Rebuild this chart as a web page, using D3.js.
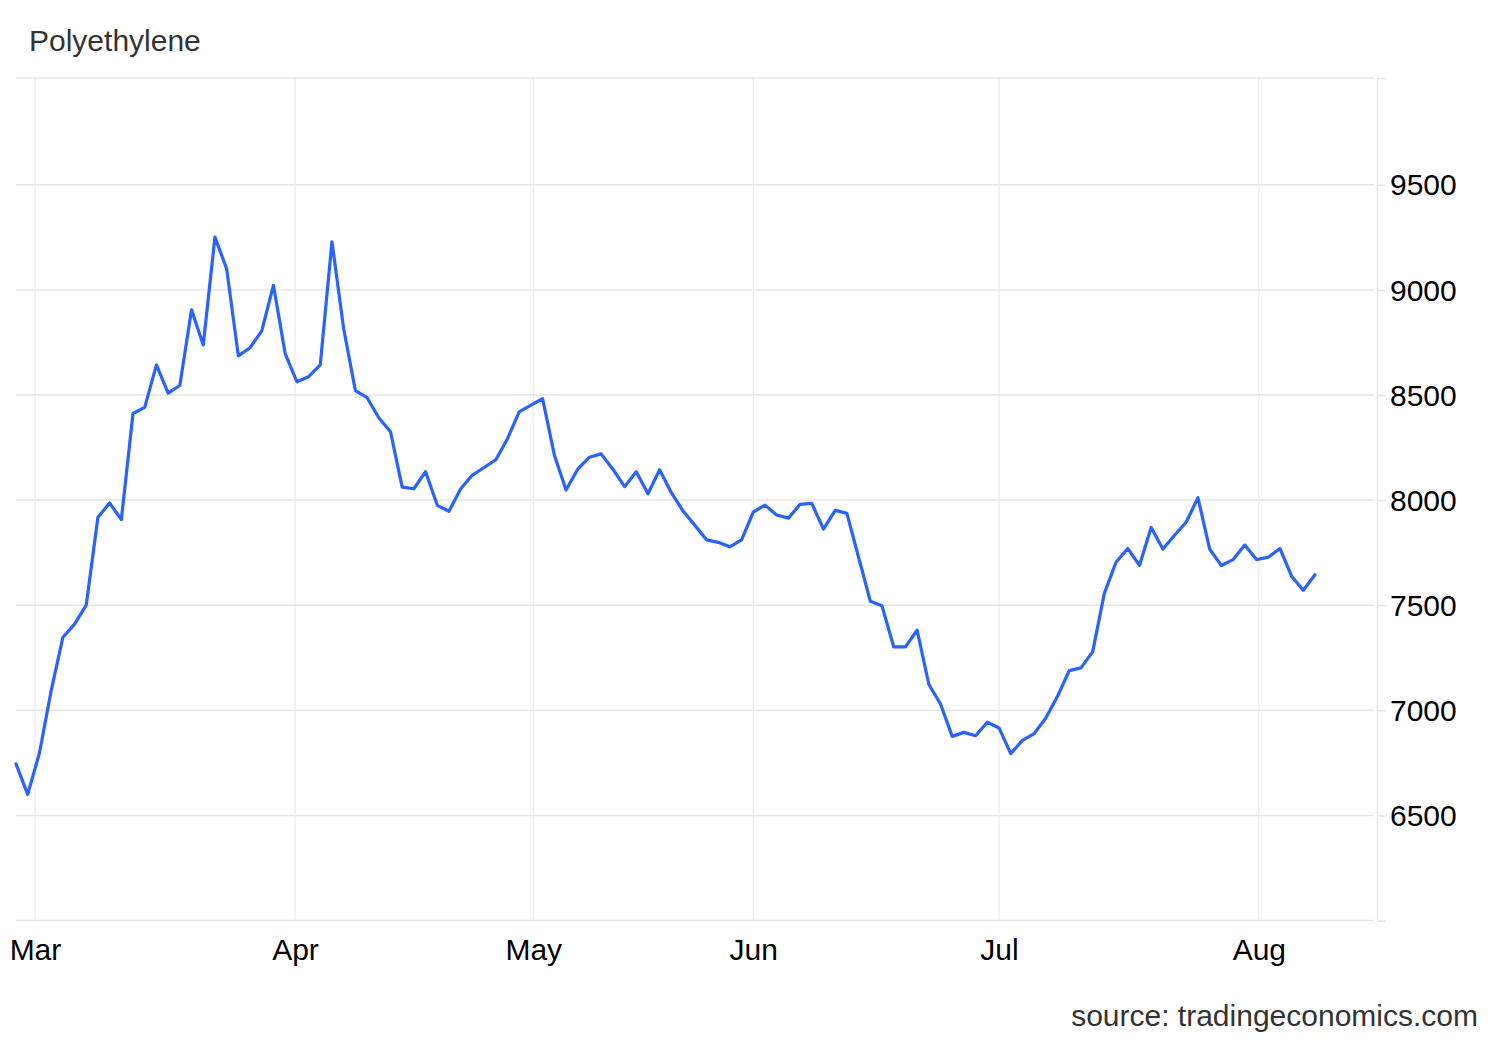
<!DOCTYPE html>
<html>
<head>
<meta charset="utf-8">
<script src="https://cdn.jsdelivr.net/npm/d3@7"></script>
<style>
  html, body { margin: 0; padding: 0; background: #ffffff; }
  svg { display: block; font-family: "Liberation Sans", Arial, sans-serif; }
</style>
</head>
<body>
<svg id="chart" width="1500" height="1040"></svg>
<script>
// ---- data ----
const title = "Polyethylene";
const source = "source: tradingeconomics.com";

// daily trading-session values, in order (index = session number)
const values = [
  6745, 6600, 6796, 7092, 7346, 7410, 7500, 7918, 7986, 7907,
  8412, 8441, 8643, 8509, 8545, 8905, 8738, 9251, 9100, 8686,
  8725, 8805, 9022, 8697, 8563, 8587, 8643, 9229, 8815, 8521,
  8487, 8392, 8325, 8062, 8054, 8135, 7975, 7947, 8054, 8119,
  8155, 8192, 8292, 8420, 8452, 8482, 8215, 8048, 8147, 8204,
  8220, 8147, 8064, 8135, 8030, 8144, 8035, 7948, 7881, 7811,
  7799, 7778, 7811, 7943, 7976, 7929, 7914, 7980, 7984, 7862,
  7951, 7937, 7728, 7519, 7497, 7302, 7302, 7381, 7124, 7030,
  6876, 6895, 6879, 6943, 6916, 6794, 6857, 6889, 6963, 7067,
  7189, 7202, 7278, 7556, 7704, 7770, 7689, 7870, 7767, 7833,
  7896, 8011, 7767, 7689, 7717, 7786, 7717, 7728, 7770, 7638,
  7571, 7645
];

// month ticks (position on the session axis) and labels
const monthLabels = ["Mar", "Apr", "May", "Jun", "Jul", "Aug"];
const monthTickIndex = [1.62, 23.84, 44.2, 63.0, 84.0, 106.2];

// value axis
const yTicks = [6500, 7000, 7500, 8000, 8500, 9000, 9500];
const yDomain = [6000, 10008];
const xDomainEnd = 116;

// ---- layout ----
const plot = { left: 16, right: 1373.5, top: 78, bottom: 920.5 };
const axisX = 1377;
const fontSize = "30px";

const svg = d3.select("#chart");

const x = d3.scaleLinear().domain([0, xDomainEnd]).range([plot.left, plot.right]);
const y = d3.scaleLinear().domain(yDomain).range([plot.bottom, plot.top]);

// vertical month grid lines
svg.append("g")
  .selectAll("line")
  .data(monthTickIndex)
  .join("line")
  .attr("x1", d => x(d)).attr("x2", d => x(d))
  .attr("y1", plot.top).attr("y2", plot.bottom)
  .attr("stroke", "#edf1f6")
  .attr("stroke-width", 1.5);

// horizontal grid lines (including top border)
const hLines = [yDomain[1]].concat(yTicks);
svg.append("g")
  .selectAll("line")
  .data(hLines)
  .join("line")
  .attr("x1", plot.left).attr("x2", plot.right)
  .attr("y1", d => y(d)).attr("y2", d => y(d))
  .attr("stroke", "#e6e6e6")
  .attr("stroke-width", 1.5);

// bottom axis line
svg.append("line")
  .attr("x1", plot.left).attr("x2", plot.right)
  .attr("y1", y(yDomain[0])).attr("y2", y(yDomain[0]))
  .attr("stroke", "#e6e6e6").attr("stroke-width", 1.5);

// right value axis
const yAxis = d3.axisRight(y)
  .tickValues([yDomain[0]].concat(yTicks).concat([yDomain[1]]))
  .tickSize(9)
  .tickPadding(4)
  .tickFormat(d => yTicks.includes(d) ? String(d) : "");

const yAxisG = svg.append("g")
  .attr("transform", `translate(${axisX},0)`)
  .call(yAxis);
yAxisG.select(".domain").attr("stroke", "#e6e6e6").attr("stroke-width", 1.5)
  .attr("d", `M0.5,${plot.top}V${plot.bottom}`);
yAxisG.selectAll(".tick line").attr("stroke", "#e6e6e6").attr("stroke-width", 1.5);
yAxisG.selectAll(".tick text")
  .attr("x", 13)
  .attr("dy", "0.34em")
  .attr("fill", "#000")
  .style("font-size", fontSize)
  .style("font-family", "'Liberation Sans', Arial, sans-serif");

// bottom month axis (labels only)
const xAxis = d3.axisBottom(x)
  .tickValues(monthTickIndex)
  .tickSize(0)
  .tickPadding(0)
  .tickFormat((d, i) => monthLabels[i]);
const xAxisG = svg.append("g")
  .attr("transform", `translate(0,${plot.bottom})`)
  .call(xAxis);
xAxisG.select(".domain").remove();
xAxisG.selectAll(".tick text")
  .attr("y", 39.5)
  .attr("dy", 0)
  .attr("fill", "#000")
  .style("font-size", fontSize)
  .style("font-family", "'Liberation Sans', Arial, sans-serif");

// the line
const line = d3.line()
  .x((d, i) => x(i))
  .y(d => y(d));

svg.append("path")
  .datum(values)
  .attr("d", line)
  .attr("fill", "none")
  .attr("stroke", "#2962ff")
  .attr("stroke-width", 3.2)
  .attr("stroke-linejoin", "round")
  .attr("stroke-linecap", "round");

// title
svg.append("text")
  .attr("x", 29).attr("y", 51)
  .attr("fill", "#333")
  .style("font-size", fontSize)
  .text(title);

// source
svg.append("text")
  .attr("x", 1478).attr("y", 1026)
  .attr("text-anchor", "end")
  .attr("fill", "#333")
  .style("font-size", fontSize)
  .text(source);
</script>
</body>
</html>
